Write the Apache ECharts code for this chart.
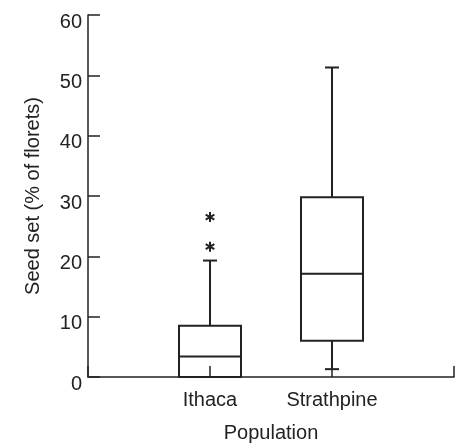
<!DOCTYPE html>
<html>
<head>
<meta charset="utf-8">
<script src="https://cdn.jsdelivr.net/npm/echarts@6/dist/echarts.min.js"></script>
<style>
  html, body { margin: 0; padding: 0; background: #fff; }
  #chart { width: 463px; height: 448px; }
</style>
</head>
<body>
<div id="chart"></div>
<script>
// categories at 0..3 on the axis, the two populations sit at 1 and 2
const categories = ['', 'Ithaca', 'Strathpine', '']
const yTicks = [0, 10, 20, 30, 40, 50, 60]

// [category index, min, Q1, median, Q3, max]
const ithacaBox = [1, 0, 0, 3.4, 8.5, 19.3]
const strathpineBox = [2, 1.3, 6.0, 17.1, 29.8, 51.3]

// outliers drawn as asterisks
const outlierCats = [1, 1]
const outlierValues = [21.6, 26.5]

const ink = '#222'
const font = '"Liberation Sans", Arial, Helvetica, sans-serif'

const chart = echarts.init(document.getElementById('chart'))

const renderBox = (params, api) => {
  const c = api.value(0)
  const pMin = api.coord([c, api.value(1)])
  const pQ1 = api.coord([c, api.value(2)])
  const pMed = api.coord([c, api.value(3)])
  const pQ3 = api.coord([c, api.value(4)])
  const pMax = api.coord([c, api.value(5)])
  const half = 31
  const cap = 7
  const x = pMed[0]
  const style = { stroke: ink, lineWidth: 2, fill: null }
  const line = (x1, y1, x2, y2) => ({
    type: 'line',
    shape: { x1, y1, x2, y2 },
    style
  })
  return {
    type: 'group',
    children: [
      {
        type: 'rect',
        shape: { x: x - half, y: pQ3[1], width: half * 2, height: pQ1[1] - pQ3[1] },
        style: { stroke: ink, lineWidth: 2, fill: 'none' }
      },
      line(x - half, pMed[1], x + half, pMed[1]),
      line(x, pQ3[1], x, pMax[1]),
      line(x - cap, pMax[1], x + cap, pMax[1]),
      line(x, pQ1[1], x, pMin[1]),
      line(x - cap, pMin[1], x + cap, pMin[1])
    ]
  }
}

const renderStar = (params, api) => {
  const p = api.coord([api.value(0), api.value(1)])
  const r = 5
  const dx = r * Math.cos(Math.PI / 6)
  const dy = r * Math.sin(Math.PI / 6)
  const style = { stroke: ink, lineWidth: 2 }
  return {
    type: 'group',
    children: [
      { type: 'line', shape: { x1: p[0], y1: p[1] - r, x2: p[0], y2: p[1] + r }, style },
      { type: 'line', shape: { x1: p[0] - dx, y1: p[1] - dy, x2: p[0] + dx, y2: p[1] + dy }, style },
      { type: 'line', shape: { x1: p[0] - dx, y1: p[1] + dy, x2: p[0] + dx, y2: p[1] - dy }, style }
    ]
  }
}

const option = {
  animation: false,
  textStyle: { fontFamily: font },
  grid: { left: 88, right: 9, top: 15, bottom: 67 },
  xAxis: {
    type: 'category',
    data: categories,
    boundaryGap: false,
    name: 'Population',
    nameLocation: 'middle',
    nameGap: 46,
    nameTextStyle: { fontSize: 20, color: ink, verticalAlign: 'top', fontFamily: font },
    axisLine: { lineStyle: { color: ink, width: 1.5 } },
    axisTick: { inside: true, length: 11, lineStyle: { color: ink, width: 1.5 } },
    axisLabel: { fontSize: 20, color: ink, margin: 13, interval: 0, fontFamily: font },
    splitLine: { show: false }
  },
  yAxis: {
    type: 'value',
    min: yTicks[0],
    max: yTicks[yTicks.length - 1],
    interval: 10,
    name: 'Seed set (% of florets)',
    nameLocation: 'middle',
    nameGap: 45,
    nameTextStyle: { fontSize: 20, color: ink, fontFamily: font },
    axisLine: { show: true, lineStyle: { color: ink, width: 1.5 } },
    axisTick: { show: true, inside: true, length: 12, lineStyle: { color: ink, width: 1.5 } },
    axisLabel: {
      fontSize: 20,
      color: ink,
      margin: 6,
      verticalAlign: 'top',
      lineHeight: 14,
      fontFamily: font
    },
    splitLine: { show: false }
  },
  series: [
    {
      type: 'custom',
      renderItem: renderBox,
      data: [ithacaBox, strathpineBox],
      z: 3
    },
    {
      type: 'custom',
      renderItem: renderStar,
      data: outlierCats.map((c, i) => [c, outlierValues[i]]),
      z: 3
    }
  ]
}

chart.setOption(option)
</script>
</body>
</html>
